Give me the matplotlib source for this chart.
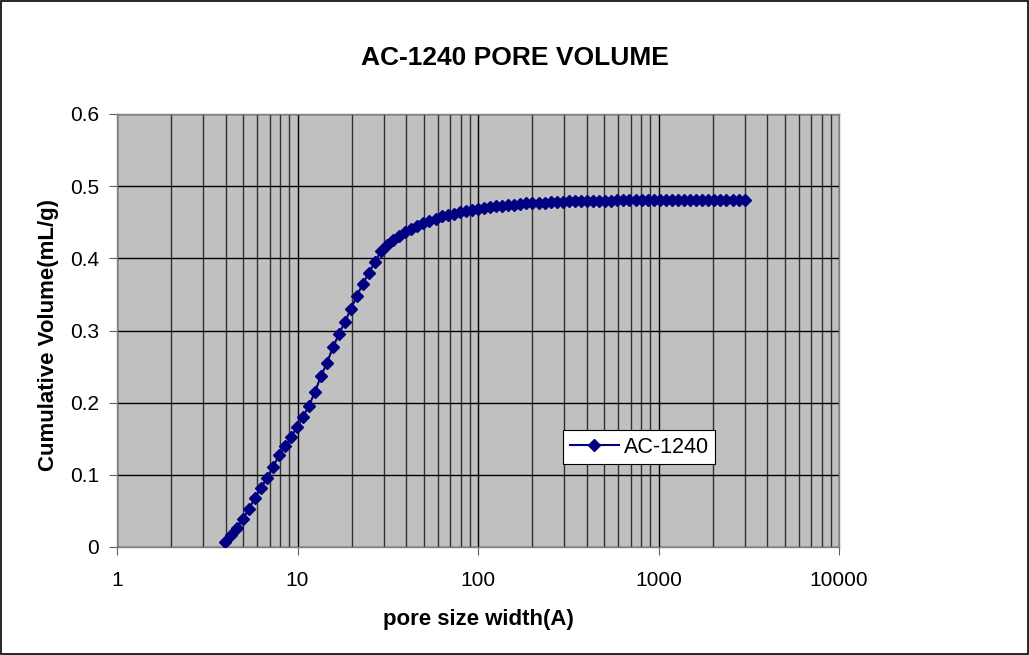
import matplotlib
matplotlib.use('Agg')
import matplotlib.pyplot as plt
from matplotlib.patches import Rectangle
from matplotlib.ticker import LogLocator, FixedLocator, FixedFormatter, NullFormatter

plt.rcParams['font.family'] = ['Liberation Sans', 'DejaVu Sans']

# pore width (A) and cumulative volume (mL/g)
pore_width = [3.97, 4.29, 4.63, 4.99, 5.39, 5.82, 6.28, 6.78, 7.32, 7.90,
              8.53, 9.20, 9.93, 10.72, 11.58, 12.50, 13.49, 14.56, 15.72, 16.97,
              18.32, 19.77, 21.34, 23.04, 24.87, 26.85, 28.98,
              31.3, 33.9, 36.6, 39.5, 42.7, 46.1, 49.8, 53.8, 58.2,
              62.8, 67.9, 73.3, 79.2, 85.6, 92.5, 99.9, 107.9, 116.6, 126.0,
              136.1, 147.0, 158.8, 171.6, 185.4, 200.3, 216.4, 233.8, 252.6, 272.9,
              294.9, 318.6, 344.2, 371.9, 401.8, 434.1, 469.0, 506.7, 547.4, 591.5,
              639.0, 690.4, 745.9, 805.9, 870.7, 940.7, 1016, 1098, 1186, 1282,
              1385, 1496, 1616, 1746, 1887, 2038, 2202, 2379, 2571, 2777, 3001]
cum_volume = [0.0065, 0.017, 0.027, 0.039, 0.053, 0.068, 0.082, 0.096, 0.111, 0.127,
              0.140, 0.152, 0.166, 0.180, 0.196, 0.215, 0.237, 0.255, 0.277, 0.295,
              0.312, 0.330, 0.348, 0.365, 0.380, 0.395, 0.410,
              0.418, 0.425, 0.431, 0.436, 0.441, 0.445, 0.449, 0.452, 0.455,
              0.458, 0.460, 0.462, 0.464, 0.466, 0.467, 0.468, 0.470, 0.471, 0.472,
              0.473, 0.474, 0.474, 0.475, 0.476, 0.476, 0.477, 0.477, 0.478, 0.478,
              0.478, 0.479, 0.479, 0.479, 0.479, 0.480, 0.480, 0.480, 0.480, 0.481,
              0.481, 0.481, 0.481, 0.481, 0.481, 0.481, 0.481, 0.481, 0.481, 0.481,
              0.481, 0.481, 0.481, 0.481, 0.481, 0.481, 0.481, 0.481, 0.481, 0.481, 0.481]

x_ticks = [1, 10, 100, 1000, 10000]
x_tick_labels = ['1', '10', '100', '1000', '10000']
y_ticks = [0, 0.1, 0.2, 0.3, 0.4, 0.5, 0.6]
y_tick_labels = ['0', '0.1', '0.2', '0.3', '0.4', '0.5', '0.6']

fig = plt.figure(figsize=(10.29, 6.55), dpi=100)
ax = fig.add_axes([117 / 1029, 1 - 547 / 655, (839 - 117) / 1029, (547 - 114) / 655])
ax.set_facecolor('#C0C0C0')

ax.plot(pore_width, cum_volume, color='#000080', lw=1.5, marker='D', ms=6,
        mec='#000080', mfc='#000080', label='AC-1240', zorder=3)

ax.set_xscale('log')
ax.set_xlim(1, 10000)
ax.set_ylim(0, 0.6)
ax.xaxis.set_major_locator(FixedLocator(x_ticks))
ax.xaxis.set_major_formatter(FixedFormatter(x_tick_labels))
ax.xaxis.set_minor_locator(LogLocator(base=10, subs=range(2, 10), numticks=20))
ax.xaxis.set_minor_formatter(NullFormatter())
ax.set_yticks(y_ticks)
ax.set_yticklabels(y_tick_labels)

ax.grid(True, which='major', axis='both', color='black', lw=1)
ax.grid(True, which='minor', axis='x', color='#303030', lw=1)
ax.set_axisbelow(True)

for sp in ax.spines.values():
    sp.set_color('#808080')
    sp.set_linewidth(1)
ax.tick_params(which='major', direction='out', length=6, color='#606060',
               labelsize=15, pad=11)
ax.tick_params(which='minor', length=0)
ax.tick_params(axis='y', pad=7)

# title sits a bit right of the plot-area centre, as in the original
fig.text(515 / 1029, 1 - 58 / 655, 'AC-1240 PORE VOLUME', fontsize=19,
         fontweight='bold', ha='center', va='center')
ax.set_xlabel('pore size width(A)', fontsize=16, fontweight='bold', labelpad=14)
ax.set_ylabel('Cumulative Volume(mL/g)', fontsize=16, fontweight='bold', va='center')
ax.yaxis.set_label_coords((49 - 117) / 722, 1 - (335 - 114) / 433)

leg = ax.legend(loc='upper left', bbox_to_anchor=(0.618, 0.27), fontsize=15.5,
                frameon=True, fancybox=False, handlelength=2.3, borderpad=0.3,
                handletextpad=0.2, borderaxespad=0)
leg.get_frame().set_edgecolor('black')
leg.get_frame().set_facecolor('white')
leg.get_frame().set_alpha(1)
leg.get_frame().set_linewidth(0.8)

fig.patches.append(Rectangle((0.0008, 0.0012), 0.998, 0.997, transform=fig.transFigure,
                             fill=False, edgecolor='black', lw=1.2))

fig.savefig('out.png', dpi=100)
